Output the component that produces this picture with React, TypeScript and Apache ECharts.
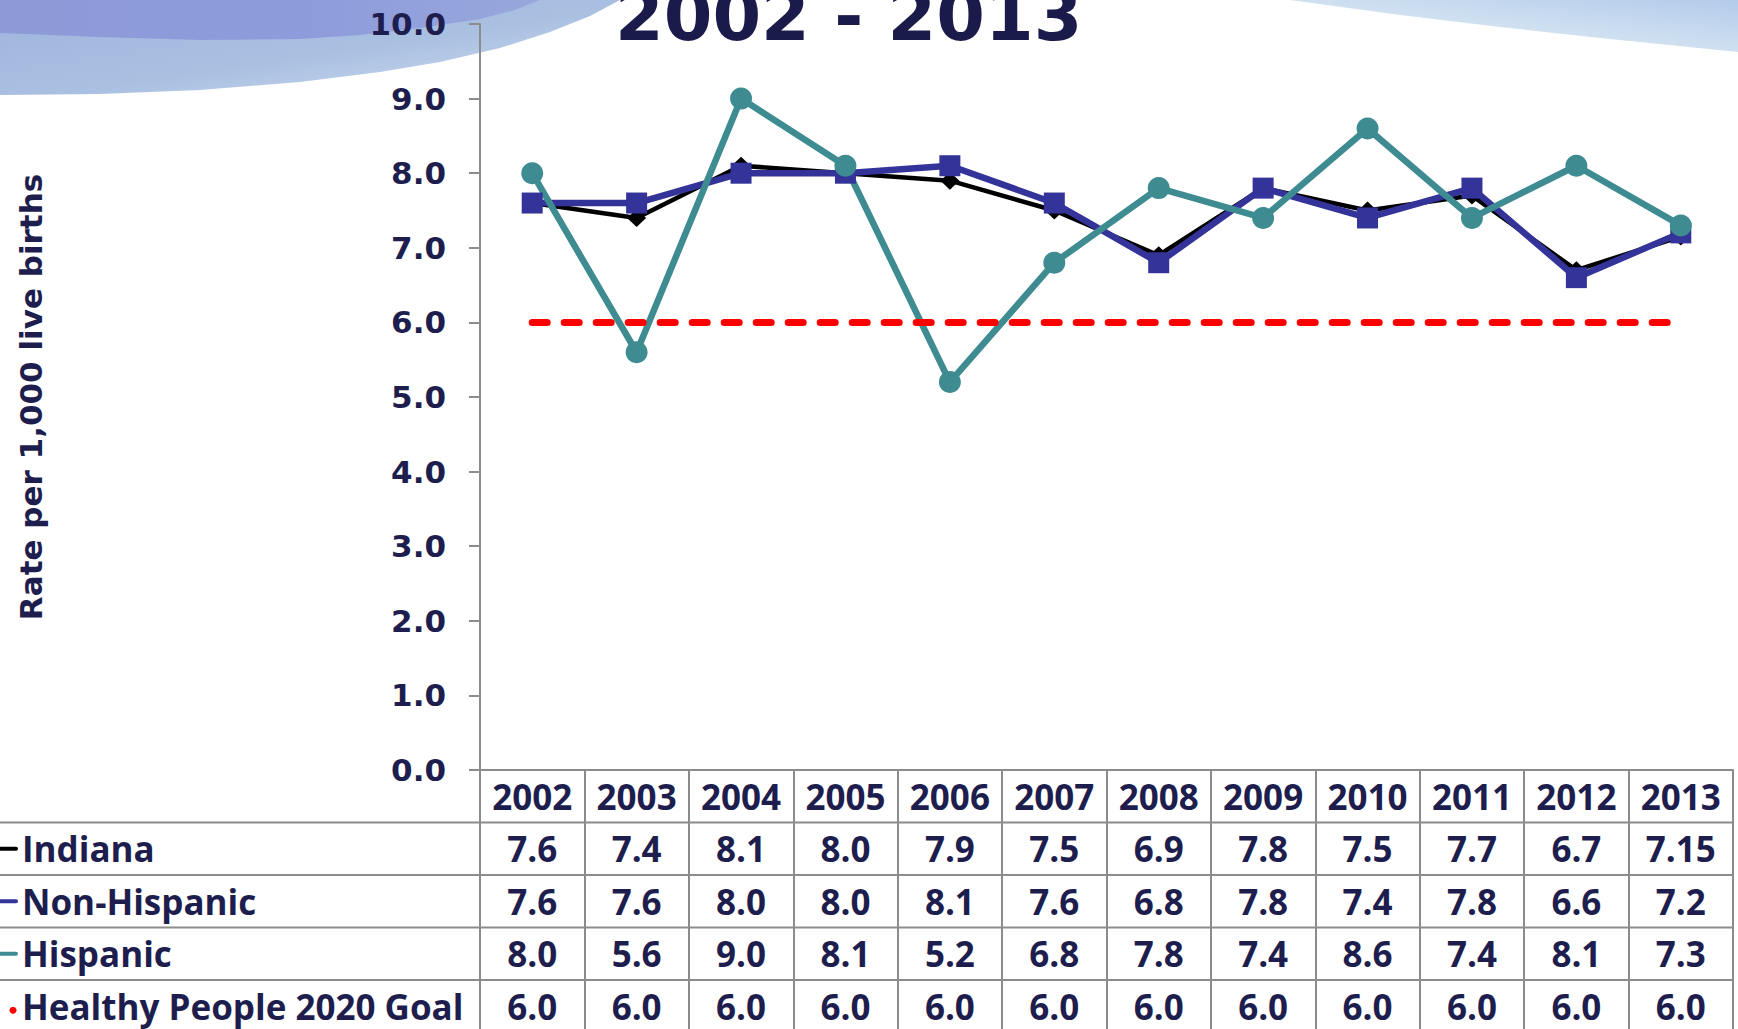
import React, { useEffect, useRef } from 'react';
import * as echarts from 'echarts';

// ---- data ----
const years = ['2002', '2003', '2004', '2005', '2006', '2007', '2008', '2009', '2010', '2011', '2012', '2013'];
const indiana = [7.6, 7.4, 8.1, 8.0, 7.9, 7.5, 6.9, 7.8, 7.5, 7.7, 6.7, 7.15];
const nonHispanic = [7.6, 7.6, 8.0, 8.0, 8.1, 7.6, 6.8, 7.8, 7.4, 7.8, 6.6, 7.2];
const hispanic = [8.0, 5.6, 9.0, 8.1, 5.2, 6.8, 7.8, 7.4, 8.6, 7.4, 8.1, 7.3];
const goal = [6.0, 6.0, 6.0, 6.0, 6.0, 6.0, 6.0, 6.0, 6.0, 6.0, 6.0, 6.0];
const seriesNames = ['Indiana', 'Non-Hispanic', 'Hispanic', 'Healthy People 2020 Goal'];
const seriesColors = ['#000000', '#333399', '#3e8c91', '#ff0000'];
const titleText = '2002 - 2013';
const yAxisTitle = 'Rate per 1,000 live births';
const yMin = 0;
const yMax = 10;
const yInterval = 1;

// ---- layout ----
const W = 1738;
const H = 1029;
const GRID_LEFT = 480;
const GRID_RIGHT_X = 1733;
const GRID_TOP = 24;
const AXIS_Y = 770;
const ROW_H = 52.5;
const NAVY = '#1e1e4e';
const GRID_GRAY = '#8c8c8c';
const TABLE_FONT = '"Open Sans", "Liberation Sans", sans-serif';

// background decoration outlines (layout only)
const WAVE_LIGHT = [[0, 0], [0, 95], [100, 94], [200, 90], [300, 82], [380, 72], [440, 62], [500, 48], [550, 32], [590, 16], [620, 0]];
const WAVE_DARK = [[0, 0], [0, 33], [100, 37], [200, 40], [300, 39], [360, 35], [420, 28], [480, 19], [515, 10], [540, 0]];
const WAVE_RIGHT = [[1290, 0], [1400, 15], [1500, 27], [1600, 38], [1738, 52], [1738, 0]];

const fmt = (v: number) => {
  const t = v * 10;
  return Math.abs(t - Math.round(t)) < 1e-9 ? v.toFixed(1) : String(v);
};

export default function App() {
  const ref = useRef<HTMLDivElement>(null);

  useEffect(() => {
    if (!ref.current) return;
    const chart = echarts.init(ref.current, undefined, { renderer: 'svg' });
    const rows = [indiana, nonHispanic, hispanic, goal];

    const tableLabel = {
      interval: 0,
      margin: ROW_H / 2,
      verticalAlign: 'middle',
      fontFamily: TABLE_FONT,
      fontWeight: 'bold',
      fontSize: 35,
      color: NAVY,
    };

    const graphics: any[] = [
      {
        type: 'polygon',
        z: -6,
        silent: true,
        shape: { points: WAVE_LIGHT },
        style: {
          fill: new echarts.graphic.LinearGradient(0, 0, 1, 1, [
            { offset: 0, color: '#9fb3de' },
            { offset: 0.55, color: '#aac0e1' },
            { offset: 0.85, color: '#c6d6ee' },
            { offset: 1, color: '#eef3fa' },
          ]),
        },
      },
      {
        type: 'polygon',
        z: -5,
        silent: true,
        shape: { points: WAVE_DARK },
        style: {
          fill: new echarts.graphic.LinearGradient(0, 0, 1, 0, [
            { offset: 0, color: '#8e9ad8' },
            { offset: 0.6, color: '#8e9cdb' },
            { offset: 1, color: '#98a8dc' },
          ]),
        },
      },
      {
        type: 'polygon',
        z: -6,
        silent: true,
        shape: { points: WAVE_RIGHT },
        style: {
          fill: new echarts.graphic.LinearGradient(1, 0, 0, 1, [
            { offset: 0, color: '#b3cbea' },
            { offset: 0.5, color: '#cfe0f1' },
            { offset: 1, color: '#f2f6fb' },
          ]),
        },
      },
      // title
      {
        type: 'text',
        z: 10,
        silent: true,
        style: {
          text: titleText,
          x: 615,
          y: 16,
          verticalAlign: 'middle',
          align: 'left',
          fill: '#1b1b4b',
          fontFamily: '"DejaVu Sans", sans-serif',
          fontWeight: 'bold',
          fontSize: 70,
          shadowColor: 'rgba(0,0,0,0.35)',
          shadowOffsetX: 3,
          shadowOffsetY: 3,
          shadowBlur: 2,
        },
      },
    ];

    // table row lines
    for (let k = 1; k <= 4; k++) {
      graphics.push({
        type: 'line',
        silent: true,
        shape: { x1: 0, y1: AXIS_Y + ROW_H * k, x2: GRID_RIGHT_X, y2: AXIS_Y + ROW_H * k },
        style: { stroke: GRID_GRAY, lineWidth: 2 },
      });
    }

    // legend keys + names in table
    seriesNames.forEach((name, k) => {
      const cy = AXIS_Y + ROW_H * (k + 1) + ROW_H / 2;
      if (k === 3) {
        graphics.push({
          type: 'circle',
          silent: true,
          shape: { cx: 13, cy: cy + 4, r: 3.5 },
          style: { fill: seriesColors[k] },
        });
      } else {
        graphics.push({
          type: 'line',
          silent: true,
          shape: { x1: 0, y1: cy, x2: 16, y2: cy },
          style: { stroke: seriesColors[k], lineWidth: 4, lineCap: 'round' },
        });
      }
      graphics.push({
        type: 'text',
        silent: true,
        style: {
          text: name,
          x: 22,
          y: cy,
          verticalAlign: 'middle',
          align: 'left',
          fill: NAVY,
          fontFamily: TABLE_FONT,
          fontWeight: 'bold',
          fontSize: 35,
        },
      });
    });

    const option: any = {
      animation: false,
      backgroundColor: '#ffffff',
      grid: {
        left: GRID_LEFT,
        right: W - GRID_RIGHT_X,
        top: GRID_TOP,
        bottom: H - AXIS_Y,
        containLabel: false,
      },
      xAxis: [
        {
          type: 'category',
          data: years,
          position: 'bottom',
          boundaryGap: true,
          axisLine: { show: true, lineStyle: { color: GRID_GRAY, width: 2 } },
          axisTick: { show: true, interval: 0, length: ROW_H * 5, lineStyle: { color: GRID_GRAY, width: 2 } },
          axisLabel: tableLabel,
          splitLine: { show: false },
        },
        ...rows.map((arr, k) => ({
          type: 'category',
          data: years,
          position: 'bottom',
          offset: ROW_H * (k + 1),
          boundaryGap: true,
          axisLine: { show: false },
          axisTick: { show: false },
          splitLine: { show: false },
          axisLabel: { ...tableLabel, formatter: (_v: string, i: number) => fmt(arr[i]) },
        })),
      ],
      yAxis: {
        type: 'value',
        min: yMin,
        max: yMax,
        interval: yInterval,
        axisLine: { show: true, lineStyle: { color: GRID_GRAY, width: 2 } },
        axisTick: { show: true, length: 11, lineStyle: { color: GRID_GRAY, width: 2 } },
        splitLine: { show: false },
        axisLabel: {
          formatter: (v: number) => v.toFixed(1),
          fontFamily: '"DejaVu Sans", sans-serif',
          fontWeight: 'bold',
          fontSize: 31,
          color: NAVY,
          margin: 34,
        },
        name: yAxisTitle,
        nameLocation: 'middle',
        nameGap: 434,
        nameRotate: 90,
        nameTextStyle: {
          fontFamily: '"DejaVu Sans", sans-serif',
          fontWeight: 'bold',
          fontSize: 31,
          color: NAVY,
        },
      },
      series: [
        {
          name: seriesNames[0],
          type: 'line',
          data: indiana,
          symbol: 'diamond',
          symbolSize: [19, 18],
          lineStyle: { color: seriesColors[0], width: 4.5 },
          itemStyle: { color: seriesColors[0] },
        },
        {
          name: seriesNames[1],
          type: 'line',
          data: nonHispanic,
          symbol: 'rect',
          symbolSize: 21,
          lineStyle: { color: seriesColors[1], width: 6.5 },
          itemStyle: { color: seriesColors[1] },
        },
        {
          name: seriesNames[2],
          type: 'line',
          data: hispanic,
          symbol: 'circle',
          symbolSize: 22,
          lineStyle: { color: seriesColors[2], width: 6.5 },
          itemStyle: { color: seriesColors[2] },
        },
        {
          name: seriesNames[3],
          type: 'line',
          data: goal,
          symbol: 'none',
          lineStyle: { color: seriesColors[3], width: 7, type: [15, 17], cap: 'round' },
        },
      ],
      graphic: graphics,
    };

    chart.setOption(option);
    return () => chart.dispose();
  }, []);

  return (
    <div
      ref={ref}
      style={{ position: 'fixed', left: 0, top: 0, width: W, height: H, background: '#ffffff' }}
    />
  );
}
